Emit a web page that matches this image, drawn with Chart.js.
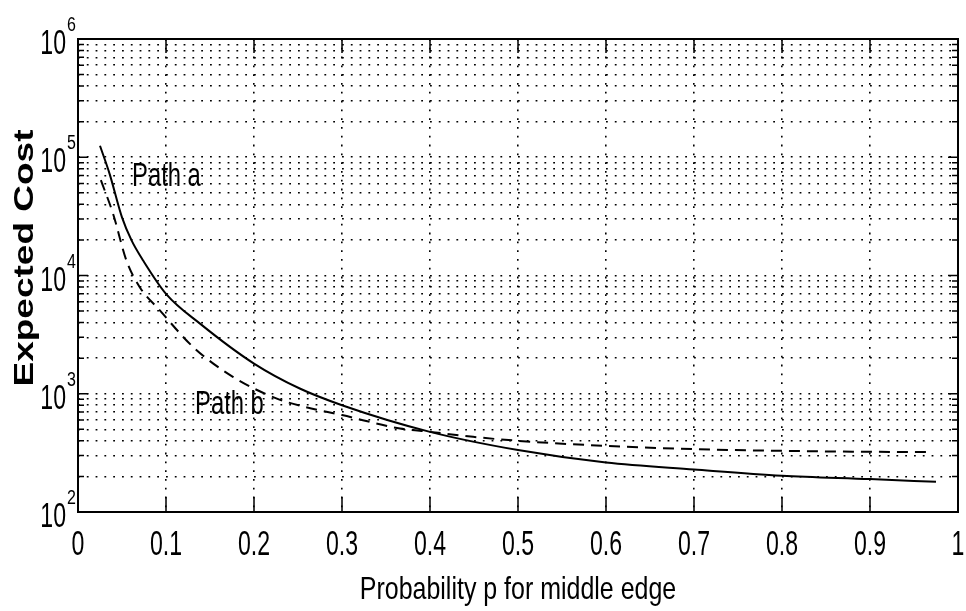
<!DOCTYPE html>
<html>
<head>
<meta charset="utf-8">
<script src="https://cdn.jsdelivr.net/npm/chart.js@4.4.1/dist/chart.umd.min.js"></script>
<style>
  html, body { margin: 0; padding: 0; background: #fff; }
  #wrap { width: 966px; height: 611px; position: relative; }
</style>
</head>
<body>
<div id="wrap"><canvas id="costChart"></canvas></div>
<script>
// ==== DATA ====
const pathA_p = [0.025, 0.036, 0.05, 0.061, 0.074, 0.1, 0.139, 0.2, 0.252, 0.3, 0.4, 0.5, 0.6, 0.7, 0.8, 0.9, 0.975];
const pathA_cost = [125000, 72000, 31000, 19700, 13400, 7000, 3900, 1800, 1107, 800, 476, 334, 262, 229, 203, 190, 180];

const pathB_p = [0.026, 0.04, 0.055, 0.07, 0.093, 0.131, 0.176, 0.226, 0.256, 0.3, 0.366, 0.4, 0.449, 0.5, 0.6, 0.7, 0.8, 0.9, 0.97];
const pathB_cost = [64000, 33000, 13400, 8000, 5070, 2480, 1390, 910, 780, 660, 508, 476, 432, 400, 362, 340, 329, 323, 321];

const xTickValues = [0, 0.1, 0.2, 0.3, 0.4, 0.5, 0.6, 0.7, 0.8, 0.9, 1];
const xTickLabels = ["0", "0.1", "0.2", "0.3", "0.4", "0.5", "0.6", "0.7", "0.8", "0.9", "1"];
const yGridValues = [
  100, 200, 300, 400, 500, 600, 700, 800, 900,
  1000, 2000, 3000, 4000, 5000, 6000, 7000, 8000, 9000,
  10000, 20000, 30000, 40000, 50000, 60000, 70000, 80000, 90000,
  100000, 200000, 300000, 400000, 500000, 600000, 700000, 800000, 900000,
  1000000
];
const yDecadeExps = [2, 3, 4, 5, 6];

const curveNames = ["Path a", "Path b"];
const curveNameP = [0.0614, 0.133];
const curveNameCost = [57500, 671];

const xTitle = "Probability p for middle edge";
const yTitle = "Expected Cost";

// ==== HELPERS ====
const FONT = "'Liberation Sans', Arial, Helvetica, sans-serif";

function toPoints(xs, ys) {
  return xs.map((x, i) => ({ x: x, y: ys[i] }));
}

// text squeezed sideways like the old plot font
function squeezeText(ctx, str, x, y, size, sx, align, weight) {
  ctx.save();
  ctx.translate(x, y);
  ctx.scale(sx, 1);
  ctx.font = (weight || "normal") + " " + size + "px " + FONT;
  ctx.textAlign = align || "left";
  ctx.textBaseline = "alphabetic";
  ctx.fillStyle = "#000";
  ctx.fillText(str, 0, 0);
  ctx.restore();
}

const framePlugin = {
  id: "framePlugin",
  beforeDraw(chart) {
    const ctx = chart.ctx;
    ctx.save();
    ctx.fillStyle = "#fff";
    ctx.fillRect(0, 0, chart.width, chart.height);
    ctx.restore();
  },
  afterDraw(chart) {
    const ctx = chart.ctx;
    const area = chart.chartArea;
    const xs = chart.scales.x;
    const ys = chart.scales.y;

    ctx.save();
    ctx.strokeStyle = "#000";
    ctx.lineWidth = 2;
    ctx.strokeRect(area.left, area.top, area.right - area.left, area.bottom - area.top);

    // inward ticks
    ctx.lineWidth = 1.5;
    ctx.beginPath();
    xTickValues.forEach((v) => {
      const px = xs.getPixelForValue(v);
      ctx.moveTo(px, area.bottom);
      ctx.lineTo(px, area.bottom - 15);
      ctx.moveTo(px, area.top);
      ctx.lineTo(px, area.top + 14);
    });
    yGridValues.forEach((v) => {
      const py = ys.getPixelForValue(v);
      const isDecade = Math.abs(Math.log10(v) - Math.round(Math.log10(v))) < 1e-9;
      const len = isDecade ? 10 : 6;
      ctx.moveTo(area.left, py);
      ctx.lineTo(area.left + len, py);
      ctx.moveTo(area.right, py);
      ctx.lineTo(area.right - len, py);
    });
    ctx.stroke();
    ctx.restore();

    // x tick labels
    xTickValues.forEach((v, i) => {
      squeezeText(ctx, xTickLabels[i], xs.getPixelForValue(v), area.bottom + 43, 35, 0.66, "center");
    });

    // y tick labels: 10 with raised exponent
    yDecadeExps.forEach((e) => {
      const py = ys.getPixelForValue(Math.pow(10, e));
      squeezeText(ctx, "10", 66, py + 15, 35, 0.66, "right");
      squeezeText(ctx, String(e), 67, py - 8, 20, 0.8, "left");
    });

    // curve names
    curveNames.forEach((name, i) => {
      squeezeText(ctx, name, xs.getPixelForValue(curveNameP[i]), ys.getPixelForValue(curveNameCost[i]), 34, 0.7, "left");
    });

    // axis titles
    squeezeText(ctx, xTitle, 518, 599, 32, 0.78, "center");

    ctx.save();
    ctx.translate(33, 258);
    ctx.rotate(-Math.PI / 2);
    ctx.scale(1.37, 1);
    ctx.font = "bold 27px " + FONT;
    ctx.textAlign = "center";
    ctx.textBaseline = "alphabetic";
    ctx.fillStyle = "#000";
    ctx.fillText(yTitle, 0, 0);
    ctx.restore();
  }
};

// ==== CHART ====
const ctx = document.getElementById("costChart").getContext("2d");
new Chart(ctx, {
  type: "line",
  data: {
    datasets: [
      {
        label: curveNames[0],
        data: toPoints(pathA_p, pathA_cost),
        borderColor: "#000",
        borderWidth: 2,
        pointRadius: 0,
        fill: false,
        cubicInterpolationMode: "monotone",
      },
      {
        label: curveNames[1],
        data: toPoints(pathB_p, pathB_cost),
        borderColor: "#000",
        borderWidth: 2,
        borderDash: [11, 7],
        pointRadius: 0,
        fill: false,
        cubicInterpolationMode: "monotone",
      },
    ],
  },
  options: {
    responsive: true,
    maintainAspectRatio: false,
    animation: false,
    devicePixelRatio: 1,
    layout: { padding: { left: 78, right: 8, top: 39, bottom: 99 } },
    plugins: {
      legend: { display: false },
      tooltip: { enabled: false },
    },
    scales: {
      x: {
        type: "linear",
        min: 0,
        max: 1,
        ticks: { display: false, stepSize: 0.1 },
        grid: { color: "#000", lineWidth: 1.6, drawTicks: false },
        border: { display: false, dash: [1.8, 7] },
      },
      y: {
        type: "logarithmic",
        min: 100,
        max: 1000000,
        afterBuildTicks: (scale) => {
          scale.ticks = yGridValues.map((v) => ({ value: v }));
        },
        ticks: { display: false },
        grid: { color: "#000", lineWidth: 1.6, drawTicks: false },
        border: { display: false, dash: [1.8, 7] },
      },
    },
  },
  plugins: [framePlugin],
});
</script>
</body>
</html>
